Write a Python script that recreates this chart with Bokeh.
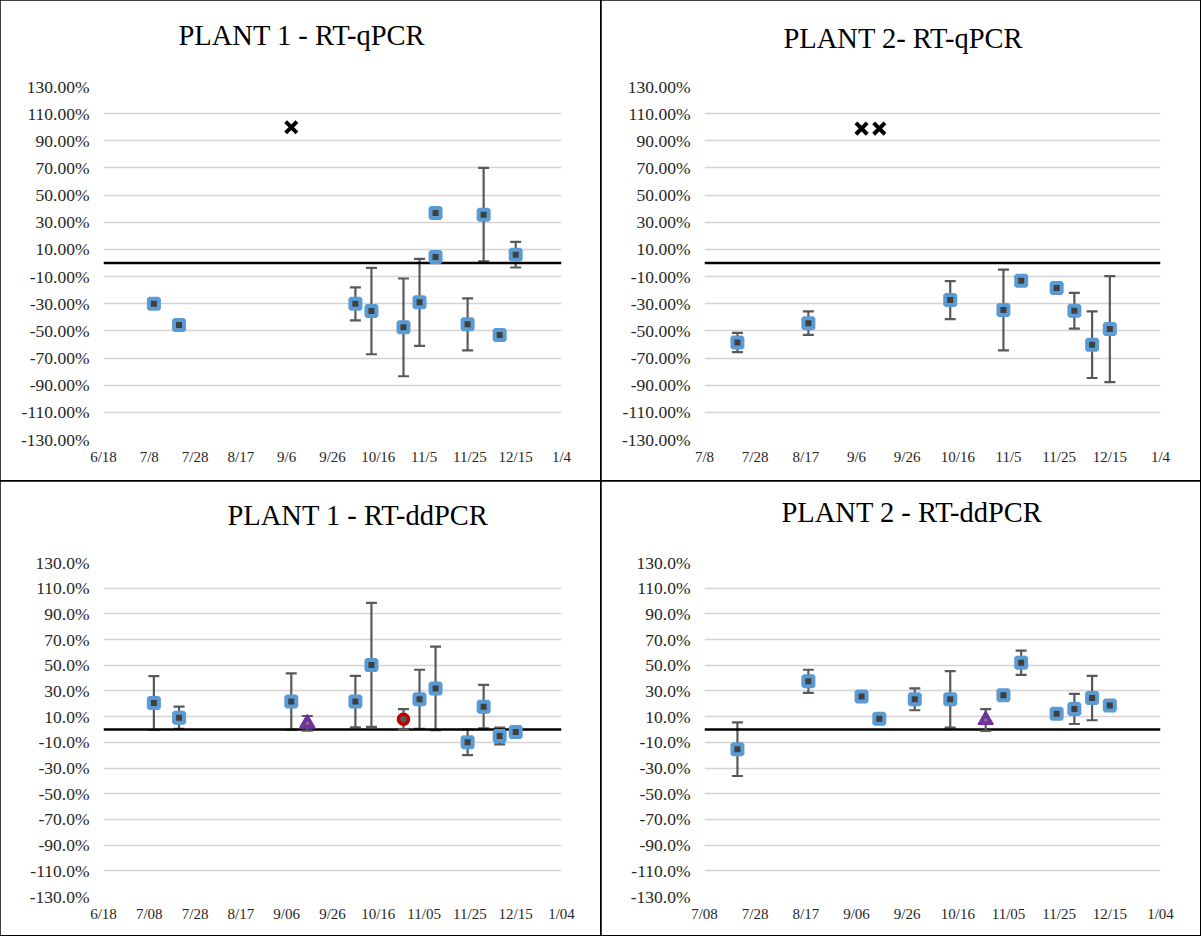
import pandas as pd
from bokeh.plotting import figure
from bokeh.models import (ColumnDataSource, Range1d, FixedTicker, PrintfTickFormatter,
                          Whisker, TeeHead, Span, Title)
from bokeh.layouts import gridplot
from bokeh.embed import file_html
from bokeh.resources import INLINE

# ---------------- data ----------------
y_ticks = [-130, -110, -90, -70, -50, -30, -10, 10, 30, 50, 70, 90, 110, 130]

# Plant 1 - RT-qPCR
tl_ticks = ["6/18", "7/8", "7/28", "8/17", "9/6", "9/26", "10/16", "11/5", "11/25", "12/15", "1/4"]
tl_dates = ["2020-07-10", "2020-07-21", "2020-10-06", "2020-10-13", "2020-10-27", "2020-11-03",
            "2020-11-10", "2020-11-10", "2020-11-24", "2020-12-01", "2020-12-08", "2020-12-15"]
tl_vals = [-30.0, -45.6, -30.1, -35.4, -47.4, -29.0, 36.8, 4.4, -45.2, 35.6, -53.0, 6.1]
tl_err = [0, 0, 12.2, 31.8, 36.0, 32.0, 1.5, 0, 19.2, 34.4, 0, 9.4]
tl_x_dates = ["2020-09-08"]
tl_x_vals = [100.0]

# Plant 2 - RT-qPCR
tr_ticks = ["7/8", "7/28", "8/17", "9/6", "9/26", "10/16", "11/5", "11/25", "12/15", "1/4"]
tr_dates = ["2020-07-21", "2020-08-18", "2020-10-13", "2020-11-03", "2020-11-10",
            "2020-11-24", "2020-12-01", "2020-12-08", "2020-12-15"]
tr_vals = [-58.6, -44.3, -27.3, -34.6, -13.0, -18.4, -35.2, -60.2, -48.7]
tr_err = [7.1, 8.6, 14.0, 29.7, 1.5, 2.0, 13.2, 24.5, 39.0]
tr_x_dates = ["2020-09-08", "2020-09-15"]
tr_x_vals = [99.0, 99.0]

# Plant 1 - RT-ddPCR
bl_ticks = ["6/18", "7/08", "7/28", "8/17", "9/06", "9/26", "10/16", "11/05", "11/25", "12/15", "1/04"]
bl_dates = ["2020-07-10", "2020-07-21", "2020-09-08", "2020-10-06", "2020-10-13", "2020-11-03",
            "2020-11-10", "2020-11-24", "2020-12-01", "2020-12-08", "2020-12-15"]
bl_vals = [20.6, 9.2, 21.7, 21.7, 50.3, 23.5, 32.0, -10.0, 17.8, -5.1, -1.9]
bl_err = [21.0, 8.6, 22.0, 20.0, 48.3, 23.0, 32.5, 10.0, 17.0, 6.5, 0]
bl_tri_dates = ["2020-09-15"]
bl_tri_vals = [4.8]
bl_tri_err = [5.7]
bl_circ_dates = ["2020-10-27"]
bl_circ_vals = [7.9]
bl_circ_err = [8.0]

# Plant 2 - RT-ddPCR
br_ticks = ["7/08", "7/28", "8/17", "9/06", "9/26", "10/16", "11/05", "11/25", "12/15", "1/04"]
br_dates = ["2020-07-21", "2020-08-18", "2020-09-08", "2020-09-15", "2020-09-29", "2020-10-13",
            "2020-11-03", "2020-11-10", "2020-11-24", "2020-12-01", "2020-12-08", "2020-12-15"]
br_vals = [-15.3, 37.5, 25.6, 8.4, 23.5, 23.5, 26.6, 52.0, 12.3, 16.0, 24.5, 18.6]
br_err = [20.9, 9.0, 1.0, 0, 8.5, 22.0, 1.5, 9.4, 1.0, 11.7, 17.3, 2.0]
br_tri_dates = ["2020-10-27"]
br_tri_vals = [7.4]
br_tri_err = [8.5]

# ---------------- helpers ----------------
ORIGIN = pd.Timestamp("2020-06-18")
SERIF = "Liberation Serif"
BLUE = "#5B9BD5"
DARK = "#404040"
BAR = "#595959"


def day(s):
    return (pd.Timestamp(s) - ORIGIN).days


def tick_pos(label):
    m, d = label.split("/")
    y = 2021 if int(m) < 6 else 2020
    return (pd.Timestamp(year=y, month=int(m), day=int(d)) - ORIGIN).days


def add_whiskers(p, dates, vals, errs):
    xs, up, lo = [], [], []
    for d, v, e in zip(dates, vals, errs):
        if e > 0:
            xs.append(day(d)); up.append(v + e); lo.append(v - e)
    if not xs:
        return
    src = ColumnDataSource(dict(base=xs, upper=up, lower=lo))
    w = Whisker(source=src, base="base", upper="upper", lower="lower",
                line_color=BAR, line_width=2.2, level="underlay",
                upper_head=TeeHead(size=11, line_color=BAR, line_width=2.2),
                lower_head=TeeHead(size=11, line_color=BAR, line_width=2.2))
    p.add_layout(w)


def make_panel(title, ticks, yfmt, width, height, borders, t_offset, t_gap):
    left, right, top, bottom = borders
    pos = [tick_pos(t) for t in ticks]
    p = figure(width=width, height=height, output_backend="svg", toolbar_location=None,
               x_range=Range1d(pos[0], pos[-1]), y_range=Range1d(-130, 130),
               min_border_left=left, min_border_right=right,
               min_border_top=top, min_border_bottom=bottom)
    p.outline_line_color = None
    p.background_fill_color = "white"
    p.border_fill_color = "white"

    # spacer (closest to the frame), then the chart title above it
    p.add_layout(Title(text=" ", text_font_size="1px", standoff=t_gap), "above")
    p.add_layout(Title(text=title, text_font=SERIF, text_font_size="28.5px",
                       text_font_style="normal", text_color="#000000",
                       align="left", offset=t_offset, standoff=0), "above")

    p.xgrid.visible = False
    p.ygrid.ticker = FixedTicker(ticks=y_ticks)
    p.ygrid.grid_line_color = "#D4D4D4"
    p.ygrid.grid_line_width = 1.6

    p.yaxis.ticker = FixedTicker(ticks=y_ticks)
    p.yaxis.formatter = PrintfTickFormatter(format=yfmt)
    p.xaxis.ticker = FixedTicker(ticks=pos)
    p.xaxis.major_label_overrides = {pp: t for pp, t in zip(pos, ticks)}
    for ax in (p.xaxis[0], p.yaxis[0]):
        ax.axis_line_color = None
        ax.major_tick_line_color = None
        ax.minor_tick_line_color = None
        ax.major_tick_in = 0
        ax.major_tick_out = 0
        ax.major_label_text_font = SERIF
        ax.major_label_text_color = "#262626"
    p.yaxis.major_label_text_font_size = "17.5px"
    p.xaxis.major_label_text_font_size = "15px"
    p.yaxis.major_label_standoff = 14
    p.xaxis.major_label_standoff = 9
    p.styles = {"outline": "2px solid #000000", "outline-offset": "-1px"}
    return p


def add_squares(p, dates, vals, errs):
    add_whiskers(p, dates, vals, errs)
    p.add_layout(Span(location=0, dimension="width", line_color="black", line_width=2.5,
                      level="underlay"))
    src = ColumnDataSource(dict(x=[day(d) for d in dates], y=vals))
    p.scatter("x", "y", source=src, marker="square", size=10, fill_color=DARK,
              line_color=BLUE, line_width=4)


def add_x(p, dates, vals):
    src = ColumnDataSource(dict(x=[day(d) for d in dates], y=vals))
    p.scatter("x", "y", source=src, marker="x", size=16, line_color="black", line_width=4)


def add_triangle(p, dates, vals, errs):
    add_whiskers(p, dates, vals, errs)
    src = ColumnDataSource(dict(x=[day(d) for d in dates], y=vals))
    p.scatter("x", "y", source=src, marker="triangle", size=15, fill_color="#7030A0",
              line_color="#7030A0", line_width=1.5)
    p.scatter("x", "y", source=src, marker="square", size=3, fill_color="#7F7F7F",
              line_color=None)


def add_circle(p, dates, vals, errs):
    add_whiskers(p, dates, vals, errs)
    src = ColumnDataSource(dict(x=[day(d) for d in dates], y=vals))
    p.scatter("x", "y", source=src, marker="circle", size=10, fill_color=BAR,
              line_color="#C00000", line_width=3.5)


# ---------------- panels ----------------
p1 = make_panel("PLANT 1 - RT-qPCR", tl_ticks, "%.2f%%", 601, 481, (103, 36, 86, 42), 75, 33)
add_squares(p1, tl_dates, tl_vals, tl_err)
add_x(p1, tl_x_dates, tl_x_vals)

p2 = make_panel("PLANT 2- RT-qPCR", tr_ticks, "%.2f%%", 599, 481, (103, 36, 86, 42), 79, 30)
add_squares(p2, tr_dates, tr_vals, tr_err)
add_x(p2, tr_x_dates, tr_x_vals)

p3 = make_panel("PLANT 1 - RT-ddPCR", bl_ticks, "%.1f%%", 601, 454, (94, 40, 81, 39), 124, 29)
add_squares(p3, bl_dates, bl_vals, bl_err)
add_triangle(p3, bl_tri_dates, bl_tri_vals, bl_tri_err)
add_circle(p3, bl_circ_dates, bl_circ_vals, bl_circ_err)

p4 = make_panel("PLANT 2 - RT-ddPCR", br_ticks, "%.1f%%", 599, 454, (93, 40, 81, 39), 77, 32)
add_squares(p4, br_dates, br_vals, br_err)
add_triangle(p4, br_tri_dates, br_tri_vals, br_tri_err)

grid = gridplot([[p1, p2], [p3, p4]], toolbar_location=None)

open("out.html", "w").write(file_html(grid, INLINE))
